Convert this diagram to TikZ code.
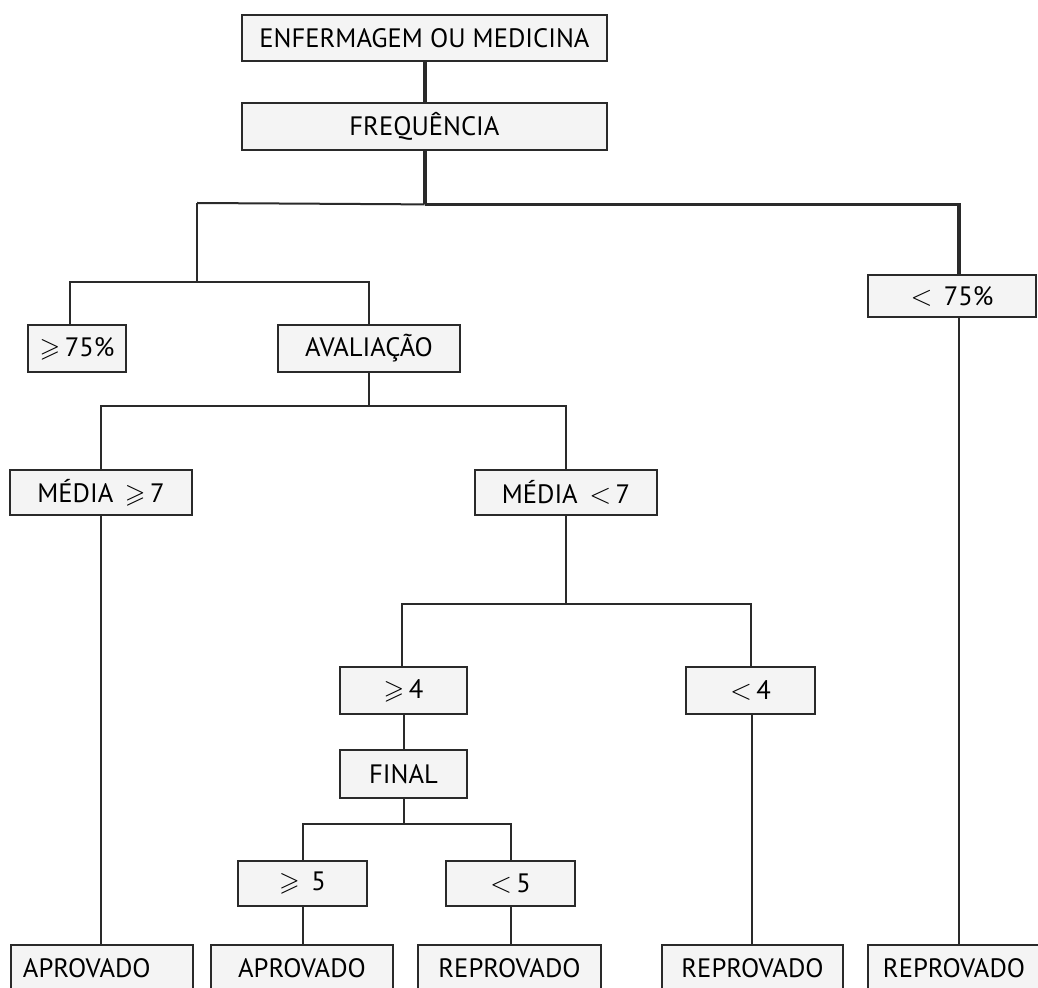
\documentclass[tikz,border=0pt]{standalone}
\usepackage{amssymb}
\usepackage{fontspec}
\setmainfont{PT Sans}
\definecolor{cellfill}{HTML}{F4F4F4}
\definecolor{cellline}{HTML}{2A2A2A}
\tikzset{
  cell/.style={draw=cellline, fill=cellfill, line width=0.7pt, inner sep=0pt, font=\fontsize{13.3}{15}\selectfont},
  cellbold/.style={cell, line width=1.4pt},
  link/.style={draw=cellline, line width=1pt},
  linkbold/.style={draw=cellline, line width=2pt}
}
\begin{document}
\begin{tikzpicture}[x=0.5pt, y=-0.5pt]
	\clip (0,0) rectangle (1038,988);
	\fill[white] (0,0) rectangle (1038,988);

	% top of the tree
	\node (enf) at (424.5, 38) [cellbold, minimum width=182.5pt, minimum height=23pt] {ENFERMAGEM OU MEDICINA};
	\node (freq) at (424.5, 126.5) [cellbold, minimum width=182.5pt, minimum height=23.5pt] {FREQUÊNCIA};

	% frequency branches
	\node (lt75) at (952, 296) [cell, line width=1pt, minimum width=84pt, minimum height=21pt] {$<$\, 75\%};
	\node (ge75) at (77, 348.5) [cellbold, minimum width=49pt, minimum height=23.5pt] {$\geqslant$\,75\%};
	\node (aval) at (369, 348.5) [cell, line width=1pt, minimum width=91pt, minimum height=23.5pt] {AVALIAÇÃO};

	% grades
	\node (mge7) at (101, 492.5) [cell, minimum width=91pt, minimum height=22.5pt] {MÉDIA \,$\geqslant$\,7};
	\node (mlt7) at (566, 492.5) [cell, minimum width=91pt, minimum height=22.5pt] {MÉDIA \,$<$\,7};
	\node (ge4) at (403.5, 690.5) [cell, minimum width=63.5pt, minimum height=23.5pt] {$\geqslant$\,4};
	\node (lt4) at (750.5, 690.5) [cell, minimum width=64.5pt, minimum height=23.5pt] {$<$\,4};
	\node (final) at (403.5, 774) [cell, minimum width=63.5pt, minimum height=24pt] {FINAL};
	\node (ge5) at (302.5, 883.5) [cell, minimum width=64.5pt, minimum height=22.5pt] {$\geqslant$\, 5};
	\node (lt5) at (510.5, 883.5) [cell, minimum width=64.5pt, minimum height=22.5pt] {$<$\,5};

	% results
	\node (ap1) at (102, 968) [cell, minimum width=91pt, minimum height=23pt, text width=79pt, align=left] {APROVADO};
	\node (ap2) at (302, 968) [cell, minimum width=91pt, minimum height=23pt] {APROVADO};
	\node (rp1) at (509.5, 968) [cell, minimum width=91.5pt, minimum height=23pt] {REPROVADO};
	\node (rp2) at (752.5, 968) [cell, minimum width=90.5pt, minimum height=23pt] {REPROVADO};
	\node (rp3) at (954, 968) [cell, minimum width=86pt, minimum height=23pt] {REPROVADO};

	% connectors
	\draw[linkbold] (enf) -- (freq);
	\draw[linkbold] (freq.south) -- ++(0,53) coordinate (jfreq);
	\draw[link, line width=1.6pt] (jfreq) -| ([xshift=3.5pt]lt75.north);
	\draw[link] (jfreq) -- (197, 203) coordinate (jleft);
	\draw[link] (jleft) -- ++(0,79) coordinate (jlow);
	\draw[link] ([xshift=-3.5pt]ge75.north) |- (jlow) -| (aval.north);
	\draw[link] (aval.south) -- ++(0,33) coordinate (javal);
	\draw[link] (mge7.north) |- (javal) -| (mlt7.north);
	\draw[link] (mlt7.south) -- ++(0,88) coordinate (jmed);
	\draw[link] ([xshift=-0.75pt]ge4.north) |- (jmed) -| (lt4.north);
	\draw[link] (ge4) -- (final);
	\draw[link] (final.south) -- ++(0,25) coordinate (jfinal);
	\draw[link] (ge5.north) |- (jfinal) -| (lt5.north);

	\draw[link] (mge7.south) -- (mge7.south |- ap1.north);
	\draw[link] (ge5) -- (ge5 |- ap2.north);
	\draw[link] (lt5) -- (lt5 |- rp1.north);
	\draw[link] ([xshift=0.75pt]lt4.south) -- ([xshift=0.75pt]lt4.south |- rp2.north);
	\draw[link] ([xshift=3.5pt]lt75.south) -- ([xshift=3.5pt]lt75.south |- rp3.north);
\end{tikzpicture}
\end{document}
